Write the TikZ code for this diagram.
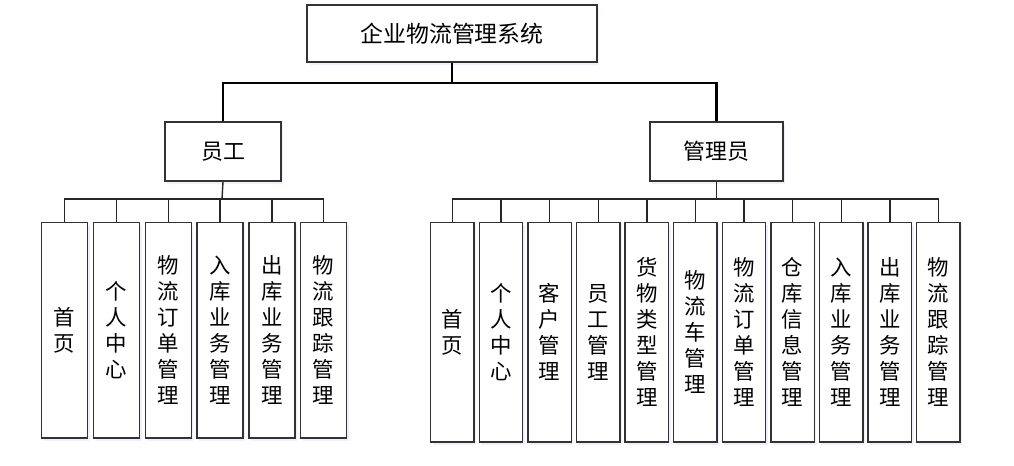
\documentclass[tikz,border=0pt]{standalone}
\usepackage{fontspec}
\newfontfamily\cjk{Noto Sans CJK SC}
\usetikzlibrary{shadows}
\begin{document}
\begin{tikzpicture}[x=1bp,y=-1bp,
  box/.style={draw=black!80,line width=1.4bp,fill=white,inner sep=0pt,
    drop shadow={shadow xshift=2bp,shadow yshift=-3bp,fill=blue!25,opacity=0.25},
    font=\cjk\fontsize{21.5}{26}\selectfont,align=center},
  hbox/.style={box,minimum height=59bp,font=\cjk\fontsize{22}{26}\selectfont},
  lchild/.style={box,minimum width=46bp,minimum height=215.5bp},
  rchild/.style={box,minimum width=43.5bp,minimum height=219.5bp},
  thick link/.style={draw=black,line width=2.2bp},
  thin link/.style={draw=black!85,line width=1.4bp}]
\useasboundingbox (0,0) rectangle (1014,466);
\node[box,minimum width=290bp,minimum height=57bp,font=\cjk\fontsize{23}{26}\selectfont] (top) at (452,33.5) {企业物流管理系统};
\node[hbox,minimum width=116bp] (emp) at (223,151.5) {员工};
\node[hbox,minimum width=133bp] (adm) at (716.5,151.5) {管理员};
% left children
\node[lchild] (l1) at (64.7,330.2) {首\\页};
\node[lchild] (l2) at (116.5,330.2) {个\\人\\中\\心};
\node[lchild] (l3) at (168.3,330.2) {物\\流\\订\\单\\管\\理};
\node[lchild] (l4) at (220.1,330.2) {入\\库\\业\\务\\管\\理};
\node[lchild] (l5) at (271.9,330.2) {出\\库\\业\\务\\管\\理};
\node[lchild] (l6) at (323.7,330.2) {物\\流\\跟\\踪\\管\\理};
% right children
\node[rchild] (r1) at (452.4,332.2) {首\\页};
\node[rchild] (r2) at (501.0,332.2) {个\\人\\中\\心};
\node[rchild] (r3) at (549.6,332.2) {客\\户\\管\\理};
\node[rchild] (r4) at (598.2,332.2) {员\\工\\管\\理};
\node[rchild] (r5) at (646.8,332.2) {货\\物\\类\\型\\管\\理};
\node[rchild] (r6) at (695.4,332.2) {物\\流\\车\\管\\理};
\node[rchild] (r7) at (744.0,332.2) {物\\流\\订\\单\\管\\理};
\node[rchild] (r8) at (792.6,332.2) {仓\\库\\信\\息\\管\\理};
\node[rchild] (r9) at (841.2,332.2) {入\\库\\业\\务\\管\\理};
\node[rchild] (r10) at (889.8,332.2) {出\\库\\业\\务\\管\\理};
\node[rchild] (r11) at (938.4,332.2) {物\\流\\跟\\踪\\管\\理};
% connectors
\coordinate (b0) at (452,83);
\draw[thick link] (top.south) -- (b0);
\draw[thick link] (b0) -| (emp.north);
\draw[thick link] (b0) -| (adm.north);
\coordinate (bl) at (222,199);
\draw[thin link] (emp.south) -- (bl);
\foreach \i in {1,...,6} \draw[thin link] (bl) -| (l\i.north);
\coordinate (br) at (716.5,199);
\draw[thin link] (adm.south) -- (br);
\foreach \i in {1,...,11} \draw[thin link] (br) -| (r\i.north);
\end{tikzpicture}
\end{document}
